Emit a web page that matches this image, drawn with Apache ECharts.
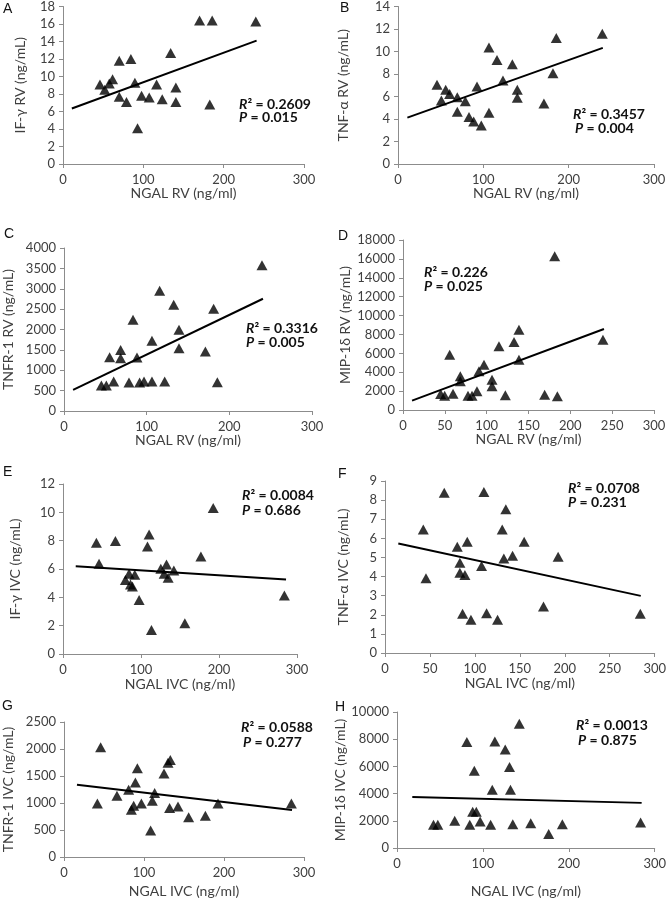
<!DOCTYPE html>
<html>
<head>
<meta charset="utf-8">
<script src="https://cdn.jsdelivr.net/npm/echarts@6/dist/echarts.min.js"></script>
<style>
html, body { margin: 0; padding: 0; background: #fff; }
#main { width: 669px; height: 899px; }
</style>
</head>
<body>
<div id="main"></div>
<script>
// NGAL vs cytokines, RV (A-D) and IVC (E-H)
const ngalA = [46, 52, 57.6, 61.7, 70, 70, 79, 84.5, 89.5, 92.8, 97.8, 107.3, 116.5, 123.5, 134, 140.5, 140.5, 170, 182.7, 185.7, 240]
const ifgRV = [9.1, 8.5, 9.2, 9.7, 11.8, 7.7, 7.1, 12.0, 9.3, 4.1, 7.8, 7.6, 9.1, 7.4, 12.7, 8.75, 7.1, 16.4, 6.8, 16.4, 16.3]
const trendA = [[11, 6.35], [241, 14.1]]

const ngalB = [45.7, 50.8, 55.9, 60.5, 69.5, 69.5, 78.9, 83.2, 88.7, 92.6, 97.6, 106.6, 106.6, 116, 123, 134, 139.8, 139.8, 171, 181.6, 185.5, 239.4]
const tnfRV = [7.04, 5.64, 6.6, 6.23, 5.93, 4.65, 5.58, 4.18, 3.77, 6.9, 3.42, 4.56, 10.35, 9.24, 7.42, 8.86, 6.6, 5.88, 5.38, 8.07, 11.2, 11.57]
const trendB = [[11, 4.12], [240, 10.32]]

const ngalC = [45.2, 51.2, 55.2, 60.1, 68.5, 68.5, 78.6, 83.5, 88.3, 91.5, 96.8, 106.4, 106.4, 115.7, 121.8, 132.7, 139.1, 139.1, 171, 181, 185.5, 239.5]
const tnfr1RV = [623, 623, 1320, 721, 1500, 1295, 697, 2238, 1311, 697, 721, 721, 1721, 2951, 721, 2607, 1992, 1541, 1459, 2508, 705, 3574]
const trendC = [[11, 516], [240.7, 2754]]

const ngalD = [45, 49.8, 55.8, 59.8, 68.5, 68.5, 77.7, 82.5, 88.4, 90.8, 96.8, 106.4, 106.4, 114.7, 122.3, 132.7, 138.6, 138.6, 169.3, 181.3, 184.5, 239]
const mipRV = [1694, 1517, 5858, 1729, 3564, 3035, 1517, 1517, 1976, 4094, 4800, 3212, 2506, 6741, 1553, 7200, 8505, 5329, 1623, 16270, 1447, 7446]
const trendD = [[10.8, 988], [240.2, 8576]]

const ngalE = [42.8, 46.2, 67.2, 80, 84.7, 86.5, 89, 92, 97.6, 108.3, 110.4, 113.4, 125.4, 129.7, 132.7, 134.8, 142.1, 156.2, 176.8, 192.6, 283.8]
const ifgIVC = [7.85, 6.37, 7.97, 5.23, 5.66, 4.9, 4.76, 5.59, 3.82, 7.59, 8.44, 1.7, 6.01, 5.66, 6.32, 5.38, 5.9, 2.17, 6.89, 10.3, 4.13]
const trendE = [[16.3, 6.2], [285.9, 5.26]]

const ngalF = [42.6, 45.6, 65.9, 80.4, 83.3, 83.3, 86.3, 88.9, 91.5, 95.6, 107.4, 110, 113, 125.2, 130.4, 132.2, 134.4, 141.9, 154.8, 176.3, 192.6, 284]
const tnfIVC = [6.46, 3.91, 8.39, 5.56, 4.72, 4.2, 2.05, 4.08, 5.82, 1.74, 4.55, 8.42, 2.08, 1.74, 6.46, 4.95, 7.52, 5.09, 5.82, 2.43, 5.04, 2.05]
const trendF = [[14.8, 5.73], [284.5, 2.99]]

const ngalG = [41.7, 45.8, 66.2, 80.8, 84.2, 87.1, 89.2, 91.7, 96.7, 108.3, 110.4, 113.3, 125, 130, 132.9, 132, 142.5, 155.8, 176.7, 192.5, 284.2]
const tnfr1IVC = [993, 2034, 1133, 1244, 876, 950, 1379, 1642, 993, 490, 1042, 1183, 1544, 1746, 1795, 907, 937, 735, 766, 993, 993]
const trendG = [[16.2, 1336], [285, 870]]

const ngalH = [42.5, 47.5, 67.2, 81.3, 84.7, 88.1, 90, 92.3, 96.8, 109, 110.9, 113.9, 126, 131, 132.1, 134.8, 142.4, 155.7, 176.6, 192.5, 283.6]
const mipIVC = [1707, 1707, 1995, 7800, 1707, 2668, 5673, 2668, 1947, 1707, 4279, 7837, 7236, 5962, 4279, 1755, 9135, 1827, 1034, 1755, 1875]
const trendH = [[17.8, 3750], [284.8, 3318]]

const r2Text = ['0.2609', '0.3457', '0.3316', '0.226', '0.0084', '0.0708', '0.0588', '0.0013']
const pText = ['0.015', '0.004', '0.005', '0.025', '0.686', '0.231', '0.277', '0.875']

const FONT = 'Lato'
const panels = [
  { letter: 'A', x: ngalA, y: ifgRV, trend: trendA, ymax: 18, yint: 2, xint: 100, yname: 'IF-γ RV (ng/mL)', xname: 'NGAL RV (ng/ml)',
    grid: { left: 63, top: 4, width: 241, height: 160 }, ygap: 36, xgap: 21, lpos: [3, 2], rpos: [239, 97], ppos: [239, 110] },
  { letter: 'B', x: ngalB, y: tnfRV, trend: trendB, ymax: 14, yint: 2, xint: 100, yname: 'TNF-α RV (ng/mL)', xname: 'NGAL RV (ng/ml)',
    grid: { left: 398, top: 4, width: 256, height: 160 }, ygap: 48, xgap: 21, lpos: [340, 1], rpos: [573, 107], ppos: [575, 121] },
  { letter: 'C', x: ngalC, y: tnfr1RV, trend: trendC, ymax: 4000, yint: 500, xint: 100, yname: 'TNFR-1 RV (ng/mL)', xname: 'NGAL RV (ng/ml)',
    grid: { left: 64, top: 248, width: 248, height: 163 }, ygap: 49, xgap: 19, lpos: [4, 227], rpos: [246, 321], ppos: [246, 335] },
  { letter: 'D', x: ngalD, y: mipRV, trend: trendD, ymax: 18000, yint: 2000, xint: 50, yname: 'MIP-1δ RV (ng/mL)', xname: 'NGAL RV (ng/ml)',
    grid: { left: 403, top: 240, width: 251, height: 170 }, ygap: 51, xgap: 19, lpos: [338, 229], rpos: [424, 265], ppos: [424, 279] },
  { letter: 'E', x: ngalE, y: ifgIVC, trend: trendE, ymax: 12, yint: 2, xint: 100, yname: 'IF-γ IVC (ng/mL)', xname: 'NGAL IVC (ng/ml)',
    grid: { left: 63, top: 484, width: 234, height: 170 }, ygap: 41, xgap: 23, lpos: [3, 465], rpos: [242, 488], ppos: [242, 503] },
  { letter: 'F', x: ngalF, y: tnfIVC, trend: trendF, ymax: 9, yint: 1, xint: 50, yname: 'TNF-α IVC (ng/mL)', xname: 'NGAL IVC (ng/ml)',
    grid: { left: 385, top: 481, width: 270, height: 172 }, ygap: 35, xgap: 23, lpos: [338, 467], rpos: [568, 481], ppos: [568, 495] },
  { letter: 'G', x: ngalG, y: tnfr1IVC, trend: trendG, ymax: 2500, yint: 500, xint: 100, yname: 'TNFR-1 IVC (ng/mL)', xname: 'NGAL IVC (ng/ml)',
    grid: { left: 64, top: 722, width: 240, height: 136 }, ygap: 49, xgap: 27, lpos: [2, 699], rpos: [241, 720], ppos: [243, 735] },
  { letter: 'H', x: ngalH, y: mipIVC, trend: trendH, ymax: 10000, yint: 2000, xint: 100, yname: 'MIP-1δ IVC (ng/mL)', xname: 'NGAL IVC (ng/ml)',
    grid: { left: 397, top: 712, width: 263, height: 139 }, ygap: 47, xgap: 36, lpos: [335, 700], rpos: [576, 718], ppos: [578, 733] }
]

const axisLine = { show: true, lineStyle: { color: '#8c8c8c', width: 1 } }
const axisTick = { show: true, inside: false, length: 4, lineStyle: { color: '#8c8c8c' } }
const labelStyle = { color: '#404040', fontFamily: FONT, fontSize: 13, formatter: v => String(v) }
const nameStyle = { color: '#404040', fontFamily: FONT, fontSize: 14 }
const richNote = {
  i: { fontFamily: FONT, fontSize: 14, fontWeight: 'bold', fontStyle: 'italic', fill: '#111' },
  n: { fontFamily: FONT, fontSize: 14, fontWeight: 'bold', fill: '#111' }
}

const grids = [], xAxes = [], yAxes = [], series = [], graphic = []
panels.forEach((p, i) => {
  grids.push(p.grid)
  xAxes.push({
    gridIndex: i, type: 'value', min: 0, max: 300, interval: p.xint,
    name: p.xname, nameLocation: 'middle', nameGap: p.xgap, nameTextStyle: nameStyle,
    axisLine, axisTick, splitLine: { show: false },
    axisLabel: Object.assign({ margin: 9 }, labelStyle)
  })
  yAxes.push({
    gridIndex: i, type: 'value', min: 0, max: p.ymax, interval: p.yint,
    name: p.yname, nameLocation: 'middle', nameGap: p.ygap, nameTextStyle: nameStyle,
    axisLine, axisTick, splitLine: { show: false },
    axisLabel: Object.assign({ margin: 8 }, labelStyle)
  })
  series.push({
    type: 'scatter', xAxisIndex: i, yAxisIndex: i,
    symbol: 'triangle', symbolSize: [11, 10],
    itemStyle: { color: '#000' },
    data: p.x.map((v, k) => [v, p.y[k]])
  })
  series.push({
    type: 'line', xAxisIndex: i, yAxisIndex: i, symbol: 'none',
    lineStyle: { color: '#000', width: 2 },
    data: p.trend
  })
  graphic.push({ type: 'text', left: p.lpos[0], top: p.lpos[1],
    style: { text: p.letter, font: '14px "Liberation Sans"', fill: '#111' } })
  graphic.push({ type: 'text', left: p.rpos[0], top: p.rpos[1],
    style: { text: '{i|R}{n|² = ' + r2Text[i] + '}', rich: richNote } })
  graphic.push({ type: 'text', left: p.ppos[0], top: p.ppos[1],
    style: { text: '{i|P}{n| = ' + pText[i] + '}', rich: richNote } })
})

const chart = echarts.init(document.getElementById('main'))
chart.setOption({
  animation: false,
  backgroundColor: '#fff',
  grid: grids,
  xAxis: xAxes,
  yAxis: yAxes,
  series,
  graphic
})
</script>
</body>
</html>
